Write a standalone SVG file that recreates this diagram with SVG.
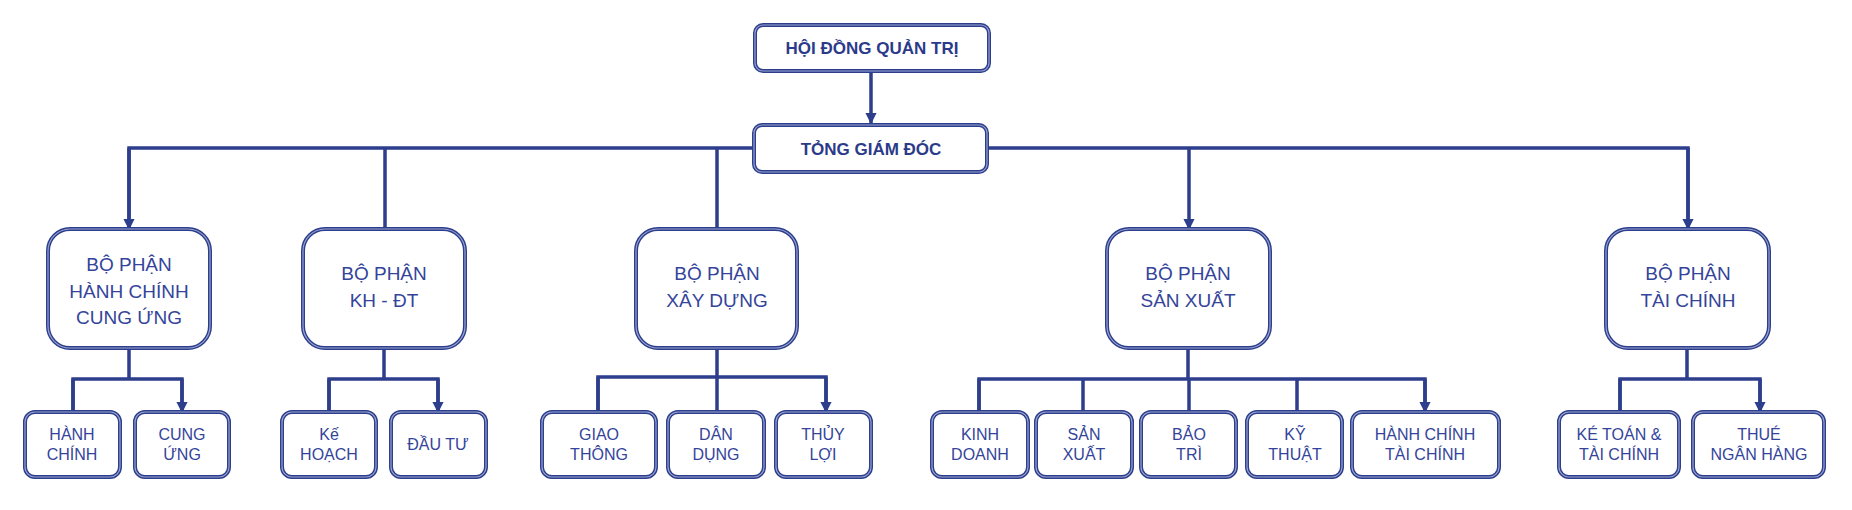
<svg xmlns="http://www.w3.org/2000/svg" width="1852" height="510" viewBox="0 0 1852 510">
<style>
.b{fill:#fff;stroke:#2c3e8c;stroke-width:4}
.bi{fill:none;stroke:#9aa3d0;stroke-width:1.2}
text{font-family:"Liberation Sans",Arial,sans-serif;fill:#34449a;text-anchor:middle}
.t{font-weight:bold;font-size:17px;fill:#2c3a8a}
.m{font-size:19px}
.s{font-size:16px}
.c{fill:none;stroke:#2c3e8c;stroke-width:3.5}
</style>
<defs><marker id="a" viewBox="0 0 10 10" refX="9" refY="5" markerWidth="3.2" markerHeight="4" orient="auto" markerUnits="strokeWidth"><path d="M0,0L10,5L0,10z" fill="#2c3e8c"/></marker></defs>
<g id="connectors">
<path class="c" d="M871,71V123" marker-end="url(#a)"/>
<path class="c" d="M754,148H129V229M1688,229V148H987"/>
<path class="c" d="M385,148V229M717,148V229M1189,148V229" marker-end="url(#a)"/>
<path class="c" d="M129,148V229" marker-end="url(#a)"/>
<path class="c" d="M1688,148V229" marker-end="url(#a)"/>
<path class="c" d="M129,348V379M73,412V379H182V412"/>
<path class="c" d="M73,379V412M182,379V412" marker-end="url(#a)"/>
<path class="c" d="M384,348V379M329,412V379H438V412"/>
<path class="c" d="M329,379V412M438,379V412" marker-end="url(#a)"/>
<path class="c" d="M717,348V377M598,412V377H826V412"/>
<path class="c" d="M598,377V412M717,377V412M826,377V412" marker-end="url(#a)"/>
<path class="c" d="M1188,348V379M979,412V379H1425V412"/>
<path class="c" d="M979,379V412M1083,379V412M1189,379V412M1297,379V412M1425,379V412" marker-end="url(#a)"/>
<path class="c" d="M1687,348V379M1620,412V379H1760V412"/>
<path class="c" d="M1620,379V412M1760,379V412" marker-end="url(#a)"/>
</g>
<g id="hdqt"><rect class="b" x="755" y="25" width="234" height="46" rx="8"/><rect class="bi" x="755" y="25" width="234" height="46" rx="8"/><text class="t" x="872" y="54">HỘI ĐỒNG QUẢN TRỊ</text></g>
<g id="tgd"><rect class="b" x="754" y="125" width="233" height="47" rx="8"/><rect class="bi" x="754" y="125" width="233" height="47" rx="8"/><text class="t" x="871" y="155">TỎNG GIÁM ĐÓC</text></g>
<g id="bp1"><rect class="b" x="48" y="229" width="162" height="119" rx="22"/><rect class="bi" x="48" y="229" width="162" height="119" rx="22"/><text class="m" x="129" y="271">BỘ PHẬN</text><text class="m" x="129" y="298">HÀNH CHÍNH</text><text class="m" x="129" y="324">CUNG ỨNG</text></g>
<g id="bp2"><rect class="b" x="303" y="229" width="162" height="119" rx="22"/><rect class="bi" x="303" y="229" width="162" height="119" rx="22"/><text class="m" x="384" y="280">BỘ PHẬN</text><text class="m" x="384" y="307">KH - ĐT</text></g>
<g id="bp3"><rect class="b" x="636" y="229" width="161" height="119" rx="22"/><rect class="bi" x="636" y="229" width="161" height="119" rx="22"/><text class="m" x="717" y="280">BỘ PHẬN</text><text class="m" x="717" y="307">XÂY DỰNG</text></g>
<g id="bp4"><rect class="b" x="1107" y="229" width="163" height="119" rx="22"/><rect class="bi" x="1107" y="229" width="163" height="119" rx="22"/><text class="m" x="1188" y="280">BỘ PHẬN</text><text class="m" x="1188" y="307">SẢN XUẤT</text></g>
<g id="bp5"><rect class="b" x="1606" y="229" width="163" height="119" rx="22"/><rect class="bi" x="1606" y="229" width="163" height="119" rx="22"/><text class="m" x="1688" y="280">BỘ PHẬN</text><text class="m" x="1688" y="307">TÀI CHÍNH</text></g>
<g id="n1"><rect class="b" x="25" y="412" width="95" height="65" rx="10"/><rect class="bi" x="25" y="412" width="95" height="65" rx="10"/><text class="s" x="72" y="440">HÀNH</text><text class="s" x="72" y="460">CHÍNH</text></g>
<g id="n2"><rect class="b" x="135" y="412" width="94" height="65" rx="10"/><rect class="bi" x="135" y="412" width="94" height="65" rx="10"/><text class="s" x="182" y="440">CUNG</text><text class="s" x="182" y="460">ỨNG</text></g>
<g id="n3"><rect class="b" x="282" y="412" width="94" height="65" rx="10"/><rect class="bi" x="282" y="412" width="94" height="65" rx="10"/><text class="s" x="329" y="440">Kế</text><text class="s" x="329" y="460">HOẠCH</text></g>
<g id="n4"><rect class="b" x="391" y="412" width="95" height="65" rx="10"/><rect class="bi" x="391" y="412" width="95" height="65" rx="10"/><text class="s" x="438" y="450">ĐẦU TƯ</text></g>
<g id="n5"><rect class="b" x="542" y="412" width="114" height="65" rx="10"/><rect class="bi" x="542" y="412" width="114" height="65" rx="10"/><text class="s" x="599" y="440">GIAO</text><text class="s" x="599" y="460">THÔNG</text></g>
<g id="n6"><rect class="b" x="668" y="412" width="96" height="65" rx="10"/><rect class="bi" x="668" y="412" width="96" height="65" rx="10"/><text class="s" x="716" y="440">DÂN</text><text class="s" x="716" y="460">DỤNG</text></g>
<g id="n7"><rect class="b" x="776" y="412" width="95" height="65" rx="10"/><rect class="bi" x="776" y="412" width="95" height="65" rx="10"/><text class="s" x="823" y="440">THỦY</text><text class="s" x="823" y="460">LỢI</text></g>
<g id="n8"><rect class="b" x="932" y="412" width="96" height="65" rx="10"/><rect class="bi" x="932" y="412" width="96" height="65" rx="10"/><text class="s" x="980" y="440">KINH</text><text class="s" x="980" y="460">DOANH</text></g>
<g id="n9"><rect class="b" x="1036" y="412" width="96" height="65" rx="10"/><rect class="bi" x="1036" y="412" width="96" height="65" rx="10"/><text class="s" x="1084" y="440">SẢN</text><text class="s" x="1084" y="460">XUẤT</text></g>
<g id="n10"><rect class="b" x="1141" y="412" width="95" height="65" rx="10"/><rect class="bi" x="1141" y="412" width="95" height="65" rx="10"/><text class="s" x="1189" y="440">BẢO</text><text class="s" x="1189" y="460">TRÌ</text></g>
<g id="n11"><rect class="b" x="1247" y="412" width="95" height="65" rx="10"/><rect class="bi" x="1247" y="412" width="95" height="65" rx="10"/><text class="s" x="1295" y="440">KỸ</text><text class="s" x="1295" y="460">THUẬT</text></g>
<g id="n12"><rect class="b" x="1352" y="412" width="147" height="65" rx="10"/><rect class="bi" x="1352" y="412" width="147" height="65" rx="10"/><text class="s" x="1425" y="440">HÀNH CHÍNH</text><text class="s" x="1425" y="460">TÀI CHÍNH</text></g>
<g id="n13"><rect class="b" x="1559" y="412" width="120" height="65" rx="10"/><rect class="bi" x="1559" y="412" width="120" height="65" rx="10"/><text class="s" x="1619" y="440">KÉ TOÁN &amp;</text><text class="s" x="1619" y="460">TÀI CHÍNH</text></g>
<g id="n14"><rect class="b" x="1693" y="412" width="131" height="65" rx="10"/><rect class="bi" x="1693" y="412" width="131" height="65" rx="10"/><text class="s" x="1759" y="440">THUÉ</text><text class="s" x="1759" y="460">NGÂN HÀNG</text></g>
</svg>
